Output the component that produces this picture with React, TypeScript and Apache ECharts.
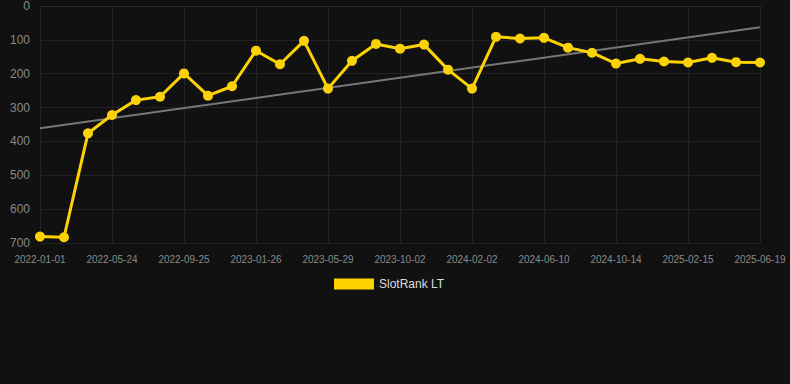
import React, { useEffect, useRef } from "react";
import * as echarts from "echarts";

const dates = [
  "2022-01-01", "2022-02-17", "2022-04-06",
  "2022-05-24", "2022-07-04", "2022-08-14",
  "2022-09-25", "2022-11-04", "2022-12-15",
  "2023-01-26", "2023-03-07", "2023-04-18",
  "2023-05-29", "2023-07-10", "2023-08-21",
  "2023-10-02", "2023-11-12", "2023-12-23",
  "2024-02-02", "2024-03-15", "2024-04-27",
  "2024-06-10", "2024-07-21", "2024-09-01",
  "2024-10-14", "2024-11-24", "2025-01-04",
  "2025-02-15", "2025-03-28", "2025-05-08",
  "2025-06-19",
];
const rankValues = [
  681, 683, 376, 322, 278, 268, 199, 265, 237, 132, 172, 103, 244, 162, 112, 126,
  114, 188, 244, 91, 96, 94, 123, 138, 170, 156, 164, 167, 153, 166, 167,
];
const trendValues = [361, 63];
const yTicks = [0, 700, 100];

export default function App() {
  const ref = useRef<HTMLDivElement>(null);
  useEffect(() => {
    if (!ref.current) return;
    const chart = echarts.init(ref.current, null, { renderer: "svg" });
    chart.setOption({
      animation: false,
      backgroundColor: "#111111",
      textStyle: { fontFamily: "Liberation Sans, Arial, sans-serif" },
      grid: { left: 40, right: 30, top: 6, bottom: 141 },
      legend: {
        data: ["SlotRank LT"],
        top: 273,
        left: 329,
        itemWidth: 40,
        itemHeight: 11,
        icon: "rect",
        textStyle: { color: "#dddddd", fontSize: 12 },
      },
      xAxis: {
        type: "category",
        data: dates,
        boundaryGap: false,
        axisLine: { show: true, lineStyle: { color: "#2a2a2a" } },
        axisTick: { show: false },
        axisLabel: { interval: 2, color: "#888888", fontSize: 10, margin: 11 },
        splitLine: { show: true, interval: 2, lineStyle: { color: "#222222" } },
      },
      yAxis: {
        type: "value",
        inverse: true,
        min: yTicks[0],
        max: yTicks[1],
        interval: yTicks[2],
        axisLine: { show: false },
        axisTick: { show: false },
        axisLabel: { color: "#888888", fontSize: 12, margin: 10 },
        splitLine: { show: true, lineStyle: { color: "#222222" } },
      },
      series: [
        {
          name: "SlotRank LT",
          type: "line",
          data: rankValues,
          symbol: "circle",
          symbolSize: 10,
          itemStyle: { color: "#FFD200" },
          lineStyle: { color: "#FFD200", width: 3 },
        },
        {
          name: "trend",
          type: "line",
          data: [
            [dates[0], trendValues[0]],
            [dates[dates.length - 1], trendValues[1]],
          ],
          symbol: "none",
          lineStyle: { color: "#777777", width: 2 },
          itemStyle: { color: "#777777" },
          z: 1,
        },
      ],
    });
    return () => chart.dispose();
  }, []);
  return (
    <div
      ref={ref}
      style={{ position: "absolute", left: 0, top: 0, width: 790, height: 384 }}
    />
  );
}
